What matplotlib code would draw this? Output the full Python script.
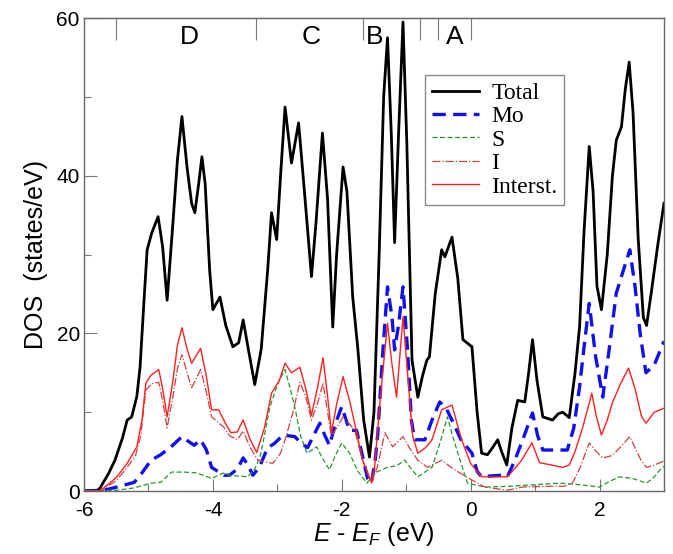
import numpy as np
import matplotlib.pyplot as plt
from matplotlib.ticker import MultipleLocator

# plotting parameters
params = {'figure.figsize': (6.73, 5.54),
          'font.family': 'sans-serif',
          'font.sans-serif': ['Liberation Sans', 'DejaVu Sans'],
          'mathtext.fontset': 'custom',
          'mathtext.it': 'Liberation Sans:italic',
          'mathtext.rm': 'Liberation Sans',
          'axes.unicode_minus': False,
          'xtick.labelsize': 15,
          'ytick.labelsize': 15,
          'axes.labelsize': 18}
plt.rcParams.update(params)

# energy (eV) and DOS (states/eV)
e_total = [-6.0, -5.8, -5.75, -5.62, -5.52, -5.4, -5.33, -5.26, -5.18, -5.13, -5.07, -5.02, -4.95, -4.85,
           -4.78, -4.71, -4.62, -4.55, -4.48, -4.4, -4.33, -4.28, -4.22, -4.17, -4.12, -4.05, -4.0, -3.89,
           -3.8, -3.69, -3.6, -3.53, -3.45, -3.35, -3.25, -3.15, -3.09, -3.01, -2.95, -2.88, -2.78, -2.67,
           -2.6, -2.47, -2.4, -2.3, -2.22, -2.14, -2.08, -1.98, -1.92, -1.83, -1.75, -1.66, -1.57, -1.5,
           -1.42, -1.35, -1.29, -1.23, -1.18, -1.12, -1.05, -0.99, -0.91, -0.82, -0.75, -0.68, -0.64,
           -0.55, -0.45, -0.4, -0.29, -0.2, -0.12, 0.02, 0.1, 0.17, 0.26, 0.34, 0.42, 0.48, 0.56, 0.64,
           0.73, 0.84, 0.9, 0.96, 1.03, 1.12, 1.27, 1.36, 1.43, 1.53, 1.62, 1.69, 1.76, 1.84, 1.9, 1.96,
           2.03, 2.12, 2.2, 2.26, 2.34, 2.4, 2.46, 2.52, 2.6, 2.68, 2.73, 2.8, 2.9, 3.0]
dos_total = [0, 0, 0.4, 2.2, 3.9, 6.8, 9.0, 9.4, 12, 15.7, 24, 30.6, 32.7, 34.8,
             31, 24.2, 34, 42, 47.5, 41, 36.5, 35.3, 39, 42.4, 39, 28, 23, 24.6,
             21, 18.3, 18.8, 21.7, 18, 13.5, 18, 28, 35.3, 31.9, 40, 48.7, 41.6, 46.7,
             40, 27.2, 34, 45.4, 37, 20.8, 30, 41.1, 38, 24.6, 18, 9, 4.3, 10,
             30, 50, 57.5, 45, 31.5, 45, 59.5, 44, 16.6, 11.9, 14.5, 16.6, 17,
             25, 30.6, 29.7, 32.2, 27, 19.2, 18.3, 10, 4.8, 4.6, 5.5, 6.5, 5, 3.3, 8,
             11.5, 11.3, 15, 19.2, 14, 9.4, 9.0, 9.8, 10, 9.3, 15, 20.8, 33, 43.7, 38, 26,
             23, 30, 40, 44.5, 46.2, 51, 54.4, 48, 32, 22, 21, 25, 31, 36.5]

e_mo = [-6.0, -5.69, -5.49, -5.22, -5.1, -4.96, -4.81, -4.65, -4.48, -4.38, -4.29, -4.19, -4.1, -4.02,
        -3.83, -3.74, -3.62, -3.53, -3.45, -3.38, -3.28, -3.15, -3.05, -2.91, -2.73, -2.62, -2.53,
        -2.44, -2.34, -2.26, -2.19, -2.1, -2.0, -1.88, -1.77, -1.68, -1.6, -1.54, -1.48, -1.44, -1.36,
        -1.29, -1.22, -1.18, -1.12, -1.05, -0.98, -0.92, -0.87, -0.71, -0.6, -0.48, -0.38, -0.29,
        -0.15, 0.02, 0.1, 0.17, 0.3, 0.48, 0.57, 0.68, 0.79, 0.96, 1.04, 1.12, 1.5, 1.6, 1.69, 1.77,
        1.84, 1.94, 2.05, 2.15, 2.26, 2.37, 2.47, 2.55, 2.63, 2.72, 2.85, 3.0]
dos_mo = [0, 0.1, 0.5, 1.1, 2.3, 3.9, 4.6, 5.6, 6.9, 6.3, 5.8, 6.5, 5.2, 3.0,
          2.0, 2.0, 2.8, 4.2, 3.2, 2.0, 3.0, 5.5, 6.0, 7.1, 6.9, 6.0, 5.5,
          7.0, 8.6, 7.0, 5.8, 8.5, 10.7, 7.7, 7.7, 4.5, 1.6, 1.0, 4, 7.4, 18,
          25.9, 22, 17.9, 21, 25.9, 18, 9, 6.5, 6.5, 9, 11.3, 10.5, 9.0,
          6.5, 4.8, 2.5, 1.8, 1.9, 2.0, 1.8, 3.8, 6.1, 9.9, 7, 5.2, 5.2, 8, 13.2, 19,
          23.8, 17, 11.9, 18, 25.1, 28, 30.6, 26, 20, 15, 16, 19]

e_s = [-6.0, -5.49, -5.22, -4.96, -4.81, -4.64, -4.45, -4.25, -4.02, -3.83, -3.74, -3.46, -3.35, -3.27,
       -3.2, -3.12, -3.0, -2.88, -2.8, -2.73, -2.64, -2.54, -2.39, -2.29, -2.19, -2.1, -2.0, -1.88,
       -1.75, -1.61, -1.49, -1.29, -1.15, -1.02, -0.92, -0.82, -0.6, -0.48, -0.36, -0.28, -0.2,
       -0.05, 0.22, 0.6, 1.0, 1.38, 1.7, 2.0, 2.15, 2.31, 2.51, 2.73, 2.85, 2.96, 3.0]
dos_s = [0, 0.1, 0.4, 1.0, 1.1, 2.4, 2.4, 2.3, 1.6, 2.3, 2.0, 1.8, 2.8, 4.3,
         7, 10.5, 13.5, 15.4, 13, 10.7, 7, 4.8, 5.6, 4.0, 2.7, 4.5, 6.1, 4.8,
         2.5, 1.0, 2.3, 3.0, 3.2, 3.9, 2.8, 1.8, 3.0, 6, 9.4, 7, 4.8,
         1.0, 0.5, 0.6, 0.8, 1.0, 0.8, 0.5, 1.2, 1.8, 1.6, 1.0, 1.8, 2.9, 3.1]

e_i = [-6.0, -5.75, -5.5, -5.33, -5.2, -5.12, -5.04, -4.95, -4.84, -4.78, -4.71, -4.62, -4.55, -4.48,
       -4.4, -4.33, -4.19, -4.1, -4.02, -3.83, -3.74, -3.62, -3.53, -3.42, -3.3, -3.07, -2.95, -2.88,
       -2.76, -2.65, -2.56, -2.47, -2.38, -2.29, -2.22, -2.16, -2.08, -1.98, -1.88, -1.8, -1.68,
       -1.54, -1.45, -1.33, -1.21, -1.05, -0.95, -0.82, -0.67, -0.45, -0.25, 0.02, 0.22, 0.57, 0.8,
       1.2, 1.45, 1.58, 1.7, 1.84, 1.95, 2.05, 2.2, 2.35, 2.47, 2.55, 2.65, 2.73, 2.85, 3.0]
dos_i = [0, 0, 1.3, 3.0, 4.5, 7, 12.8, 13.6, 13.8, 11.5, 8.0, 12, 15.5, 17.3,
         15, 13.1, 15.4, 12.5, 9.4, 8.1, 7.0, 6.5, 7.6, 5.5, 3.9, 3.5, 4.8, 6.5,
         9.9, 13.8, 12, 9.0, 11, 13.7, 10, 6.9, 8, 9.4, 8.5, 7.7, 4,
         1.0, 3, 7.4, 5.6, 6.9, 5.5, 3.9, 3.0, 3.9, 2.7, 1.4, 0.5, 0.1, 0.5,
         0.6, 0.6, 1.0, 3, 6.1, 5, 4.2, 4.5, 5.8, 6.9, 5.5, 3.8, 3.0, 3.3, 3.8]

e_int = [-6.0, -5.8, -5.74, -5.6, -5.49, -5.33, -5.18, -5.1, -5.04, -4.96, -4.84, -4.78, -4.71, -4.62,
         -4.55, -4.48, -4.4, -4.33, -4.19, -4.1, -4.02, -3.91, -3.8, -3.72, -3.62, -3.53, -3.42, -3.32,
         -3.2, -3.09, -2.97, -2.88, -2.78, -2.65, -2.56, -2.47, -2.38, -2.29, -2.22, -2.16, -2.08,
         -1.98, -1.88, -1.8, -1.68, -1.54, -1.49, -1.4, -1.29, -1.22, -1.15, -1.1, -1.05, -0.97, -0.9,
         -0.82, -0.7, -0.6, -0.45, -0.29, -0.14, 0.0, 0.17, 0.48, 0.57, 0.7, 0.79, 0.95, 1.07, 1.43,
         1.53, 1.62, 1.74, 1.88, 1.95, 2.03, 2.12, 2.2, 2.32, 2.45, 2.55, 2.65, 2.72, 2.85, 3.0]
dos_int = [0, 0, 0.1, 1.0, 1.8, 3.5, 5.6, 9, 13.7, 14.7, 15.4, 13, 9.4, 14,
           18.5, 20.7, 18, 16.2, 18.1, 14.5, 10.3, 10.3, 8.5, 7.4, 7.5, 9.0, 6.5, 4.9,
           8, 12.4, 14, 16.2, 15.0, 15.7, 13, 9.6, 13, 16.9, 12, 7.4, 11,
           14.5, 11.5, 8.6, 4, 1.1, 3.0, 12, 21.3, 16, 11.9, 17, 22.1, 14, 7,
           4.8, 5.5, 6.5, 10.3, 10.9, 6.5, 3.5, 1.8, 1.8, 1.8, 3.0, 3.9, 6.1, 3.6, 3.0,
           3.3, 5, 8.1, 12.4, 9.5, 7.1, 9, 11.2, 13.5, 15.6, 13, 9.5, 8.6, 10, 10.5]

# region boundaries along the top and their labels
region_edges = [-5.5, -3.33, -1.67, -0.78, -0.51, 0.0]
region_names = ['D', 'C', 'B', 'A']
region_pos = [-4.36, -2.47, -1.49, -0.25]

fig = plt.figure()
ax = fig.add_axes([0.1248, 0.1137, 0.8618, 0.8538])

ax.plot(e_total, dos_total, '-', c='k', lw=2.0, label='Total', solid_joinstyle='round')
ax.plot(e_mo, dos_mo, '--', c='#1010ee', lw=2.4, dashes=(4, 2.2), label='Mo')
ax.plot(e_s, dos_s, '--', c='#22992b', lw=0.9, dashes=(4, 2), label='S')
ax.plot(e_i, dos_i, '-.', c='#d04040', lw=0.9, label='I')
ax.plot(e_int, dos_int, '-', c='#ff2020', lw=1.0, label='Interst.')

ax.set_xlim(-6, 3)
ax.set_ylim(0, 60)
ax.xaxis.set_major_locator(MultipleLocator(2))
ax.xaxis.set_minor_locator(MultipleLocator(1))
ax.yaxis.set_major_locator(MultipleLocator(20))
ax.yaxis.set_minor_locator(MultipleLocator(10))
ax.tick_params(which='both', direction='in', color='#777777', width=0.8)
ax.tick_params(axis='x', pad=7)
ax.tick_params(axis='y', pad=3)
ax.tick_params(which='major', length=9)
ax.tick_params(which='minor', length=5)
for sp in ax.spines.values():
    sp.set_color('#666666')
    sp.set_linewidth(1.0)

top = ax.secondary_xaxis('top')
top.set_xticks(region_edges)
top.set_xticklabels([])
top.tick_params(direction='in', length=16, width=0.8, color='#777777')
top.spines['top'].set_color('#666666')
for name, xpos in zip(region_names, region_pos):
    ax.text(xpos, 57.6, name, fontsize=19, ha='center', va='center')

ax.set_xlabel(r'$E$ - $E_F$ (eV)', labelpad=0)
ax.set_ylabel('DOS  (states/eV)', labelpad=6)

leg = ax.legend(loc='upper left', bbox_to_anchor=(0.588, 0.879), borderaxespad=0,
                prop={'family': 'Liberation Serif', 'size': 17}, frameon=True, fancybox=False,
                edgecolor='#888888', framealpha=1, handlelength=2.0, handletextpad=0.5,
                labelspacing=0.08, borderpad=0.3)
leg.get_frame().set_linewidth(1.0)

plt.savefig('out.png', dpi=100)
